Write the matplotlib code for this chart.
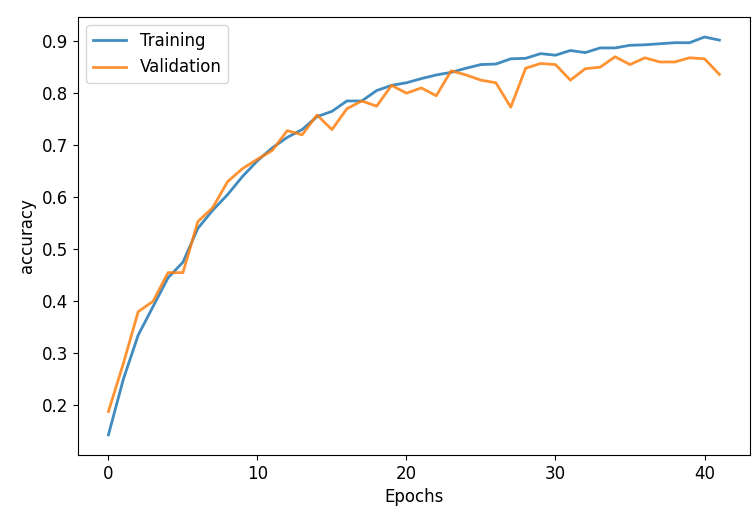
import matplotlib
matplotlib.use('Agg')
import matplotlib.pyplot as plt

epochs = list(range(42))
train_acc = [0.143, 0.25, 0.335, 0.39, 0.445, 0.475, 0.54, 0.575, 0.605, 0.64,
             0.67, 0.695, 0.715, 0.73, 0.755, 0.765, 0.785, 0.785, 0.805, 0.815,
             0.82, 0.828, 0.835, 0.84, 0.848, 0.855, 0.856, 0.866, 0.867, 0.876,
             0.873, 0.882, 0.878, 0.887, 0.887, 0.892, 0.893, 0.895, 0.897, 0.897,
             0.908, 0.902]
val_acc = [0.188, 0.28, 0.38, 0.40, 0.455, 0.455, 0.553, 0.58, 0.63, 0.655,
           0.673, 0.69, 0.728, 0.72, 0.758, 0.73, 0.77, 0.785, 0.775, 0.815,
           0.80, 0.81, 0.795, 0.843, 0.835, 0.825, 0.82, 0.773, 0.848, 0.857,
           0.855, 0.825, 0.847, 0.85, 0.87, 0.855, 0.868, 0.86, 0.86, 0.868,
           0.866, 0.836]

fig = plt.figure(figsize=(7.56, 5.18), dpi=100)
ax = fig.add_axes([0.103, 0.122, 0.889, 0.845])
ax.plot(epochs, train_acc, label='Training', lw=2, alpha=0.85)
ax.plot(epochs, val_acc, label='Validation', lw=2, alpha=0.85)
ax.set_xlabel('Epochs', fontsize=12)
ax.set_ylabel('accuracy', fontsize=12)
ax.tick_params(labelsize=12)
ax.legend(fontsize=12)
fig.savefig('out.png')
